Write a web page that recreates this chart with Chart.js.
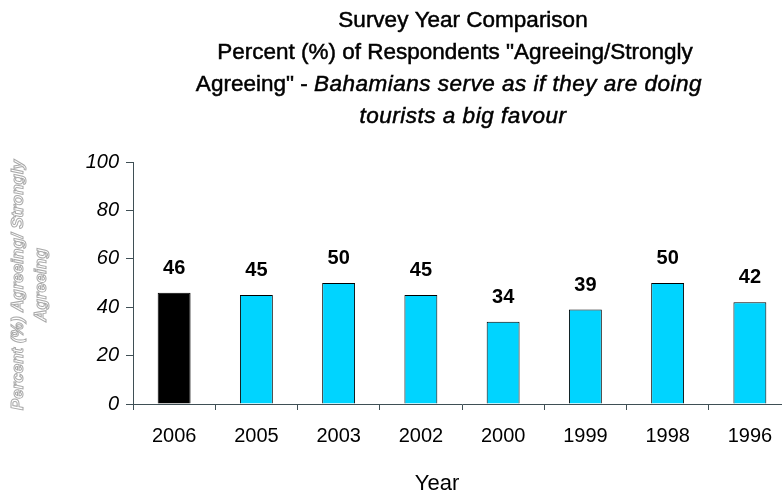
<!DOCTYPE html>
<html>
<head>
<meta charset="utf-8">
<script src="https://cdn.jsdelivr.net/npm/chart.js@4.4.0/dist/chart.umd.min.js"></script>
<style>
  html, body { margin: 0; padding: 0; background: #fff; overflow: hidden; }
</style>
</head>
<body>
<canvas id="yearChart" width="791" height="496"></canvas>
<script>
// survey years and share agreeing/strongly agreeing (%)
const years = ['2006', '2005', '2003', '2002', '2000', '1999', '1998', '1996'];
const agreePct = [46, 45, 50, 45, 34, 39, 50, 42];
const yTicks = [0, 20, 40, 60, 80, 100];

const titleLines = [
  [{ t: 'Survey Year Comparison' }],
  [{ t: 'Percent (%) of Respondents "Agreeing/Strongly' }],
  [{ t: 'Agreeing" - ' }, { t: 'Bahamians serve as if they are doing', it: true }],
  [{ t: 'tourists a big favour', it: true }]
];
const yTitleLines = ['Percent (%) Agreeing/ Strongly', 'Agreeing'];
const xTitle = 'Year';

(function() {
  const canvas = document.getElementById('yearChart');
  const FONT = "'Liberation Sans', Arial, sans-serif";
  const AXIS = '#3f4f55';

  // heading: centred lines, some parts in italics
  const headingPlugin = {
    id: 'heading',
    afterDraw(chart) {
      const ctx = chart.ctx;
      const centers = [463, 455, 449, 463];
      const setFont = seg => {
        ctx.font = (seg.it ? 'italic ' : '') + '22.5px ' + FONT;
        ctx.letterSpacing = seg.it ? '0.5px' : '0px';
      };
      ctx.save();
      ctx.fillStyle = '#000';
      ctx.strokeStyle = '#000';
      ctx.lineWidth = 0.5;
      ctx.textBaseline = 'middle';
      ctx.textAlign = 'left';
      titleLines.forEach((line, i) => {
        const y = 21 + i * 32;
        let total = 0;
        const widths = line.map(seg => {
          setFont(seg);
          const w = ctx.measureText(seg.t).width;
          total += w;
          return w;
        });
        let x = centers[i] - total / 2;
        line.forEach((seg, k) => {
          setFont(seg);
          ctx.fillText(seg.t, x, y);
          ctx.strokeText(seg.t, x, y);
          x += widths[k];
        });
      });
      ctx.letterSpacing = '0px';

      // outlined, rotated y axis caption
      ctx.font = 'italic bold 17px ' + FONT;
      ctx.textAlign = 'center';
      ctx.lineWidth = 1;
      ctx.strokeStyle = '#a8a8a8';
      ctx.fillStyle = '#fff';
      [18, 41].forEach((cx, i) => {
        ctx.save();
        ctx.translate(cx, 285);
        ctx.rotate(-Math.PI / 2);
        ctx.fillText(yTitleLines[i], 0, 0);
        ctx.strokeText(yTitleLines[i], 0, 0);
        ctx.restore();
      });

      // x axis caption
      ctx.fillStyle = '#000';
      ctx.font = '22px ' + FONT;
      ctx.fillText(xTitle, 437, 484);

      // value above each bar
      const meta = chart.getDatasetMeta(0);
      ctx.font = 'bold 20px ' + FONT;
      ctx.textBaseline = 'alphabetic';
      meta.data.forEach((bar, i) => {
        ctx.fillText(String(agreePct[i]), bar.x, bar.y - 19);
      });
      ctx.restore();
    }
  };

  new Chart(canvas.getContext('2d'), {
    type: 'bar',
    data: {
      labels: years,
      datasets: [{
        data: agreePct,
        backgroundColor: agreePct.map((_, i) => i === 0 ? '#000000' : '#00d4ff'),
        borderColor: '#000',
        borderWidth: 1,
        borderSkipped: 'bottom',
        barPercentage: 0.4,
        categoryPercentage: 1
      }]
    },
    options: {
      responsive: false,
      animation: false,
      devicePixelRatio: 1,
      layout: { padding: { top: 162, left: 0, right: 0, bottom: 0 } },
      plugins: { legend: { display: false }, tooltip: { enabled: false }, title: { display: false } },
      scales: {
        x: {
          afterFit(scale) { scale.height = 92; },
          grid: { drawOnChartArea: false, drawTicks: true, tickLength: 6, color: AXIS, offset: true },
          border: { color: AXIS, width: 1 },
          ticks: { color: '#000', padding: 14, font: { family: FONT, size: 20 } }
        },
        y: {
          min: 0, max: 100,
          afterFit(scale) { scale.width = 133; },
          afterBuildTicks(scale) { scale.ticks = yTicks.map(v => ({ value: v })); },
          grid: { drawOnChartArea: false, drawTicks: true, tickLength: 7, color: AXIS },
          border: { color: AXIS, width: 1 },
          ticks: { color: '#000', padding: 7, font: { family: FONT, size: 20, style: 'italic' } }
        }
      }
    },
    plugins: [headingPlugin]
  });
})();
</script>
</body>
</html>
